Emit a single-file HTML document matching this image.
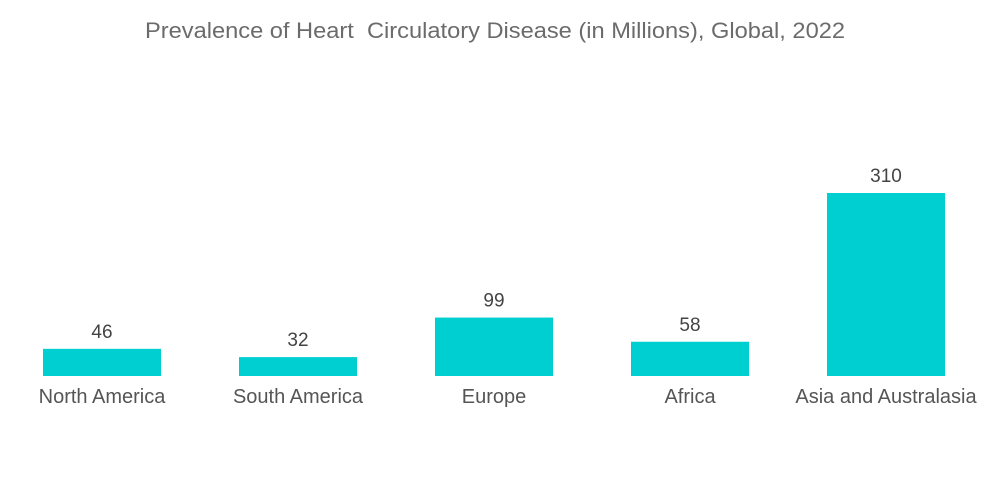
<!DOCTYPE html>
<html><head><meta charset="utf-8">
<style>
html,body{margin:0;padding:0;background:#fff;width:1000px;height:504px;overflow:hidden;font-family:"Liberation Sans",sans-serif;}
</style></head>
<body>
<svg id="chart" width="1000" height="504" xmlns="http://www.w3.org/2000/svg">
<text x="495" y="38" text-anchor="middle" font-size="22" fill="#6b6b6b" textLength="700" lengthAdjust="spacingAndGlyphs" xml:space="preserve" font-family="Liberation Sans, sans-serif">Prevalence of Heart  Circulatory Disease (in Millions), Global, 2022</text>
<g id="bars"></g>
</svg>
<script>
const categories = ["North America","South America","Europe","Africa","Asia and Australasia"];
const values = [46,32,99,58,310];
const labels = ["46","32","99","58","310"];

const baseY = 376, maxVal = 310, maxH = 183;
const firstX = 43, step = 196, barW = 118;
function yScale(v){ return baseY - v / maxVal * maxH; }
function xScale(i){ return firstX + i * step; }
const ns = "http://www.w3.org/2000/svg";
const g = document.getElementById("bars");
categories.forEach((c, i) => {
  const x = xScale(i), y = yScale(values[i]);
  const r = document.createElementNS(ns, "rect");
  
  
  r.setAttribute("x", x); r.setAttribute("y", y);
  r.setAttribute("width", barW); r.setAttribute("height", baseY - y);
  r.setAttribute("fill", "#00cfd1");
  g.appendChild(r);
  const t = document.createElementNS(ns, "text");
  
  
  t.setAttribute("x", x + barW / 2); t.setAttribute("y", y - 11);
  t.setAttribute("text-anchor", "middle"); t.setAttribute("font-size", "19");
  t.setAttribute("fill", "#444");
  t.textContent = labels[i];
  g.appendChild(t);
  const l = document.createElementNS(ns, "text");
  
  
  l.setAttribute("x", x + barW / 2); l.setAttribute("y", 403);
  l.setAttribute("text-anchor", "middle"); l.setAttribute("font-size", "20");
  l.setAttribute("fill", "#555");
  l.textContent = c;
  g.appendChild(l);
});
</script>
</body></html>
